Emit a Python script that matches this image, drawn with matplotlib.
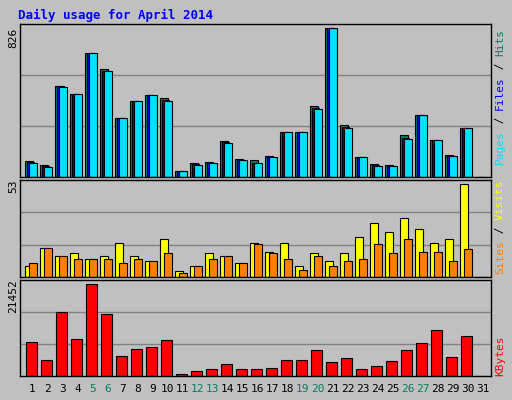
import matplotlib
matplotlib.use("Agg")
import matplotlib.pyplot as plt
import numpy as np

days = list(range(1, 32))
weekend = [5, 6, 12, 13, 19, 20, 26, 27]
hits = [88, 64, 508, 463, 688, 598, 329, 424, 458, 441, 32, 77, 82, 200, 99, 93, 116, 250, 250, 396, 826, 290, 110, 71, 65, 234, 346, 206, 121, 273, 0]
files = [84, 60, 505, 463, 688, 592, 329, 424, 458, 430, 32, 70, 80, 193, 95, 80, 112, 250, 250, 385, 826, 280, 110, 64, 62, 218, 346, 206, 118, 273, 0]
pages = [80, 54, 503, 463, 688, 587, 329, 424, 458, 424, 32, 65, 77, 189, 93, 77, 110, 250, 250, 379, 826, 273, 110, 60, 60, 211, 346, 206, 116, 273, 0]
visits = [6.5, 16.3, 11.7, 13.4, 10.5, 11.7, 19.1, 11.7, 9.4, 21.4, 3.6, 6.5, 13.4, 12.2, 8.2, 19.1, 14.5, 19.1, 6.5, 13.4, 9.4, 13.4, 22.6, 30.6, 25.4, 33.5, 27.2, 19.1, 21.4, 53, 0]
sites = [7.7, 16.3, 11.7, 10.5, 10.5, 10.5, 7.7, 10.5, 9.4, 13.4, 2.5, 6.5, 10.5, 11.7, 7.7, 18.6, 13.4, 10.5, 4.2, 11.7, 6.5, 9.4, 10.5, 18.6, 13.4, 21.4, 14.5, 14.5, 9.4, 15.7, 0]
kbytes = [7830, 3837, 14877, 8535, 21452, 14407, 4776, 6186, 6655, 8300, 548, 1253, 1723, 2897, 1723, 1723, 1957, 3837, 3837, 5951, 3367, 4306, 1723, 2427, 3602, 5951, 7595, 10649, 4541, 9240, 0]

W, H = 512, 400
fig = plt.figure(figsize=(W/100, H/100), dpi=100, facecolor="#C0C0C0")
mono = "DejaVu Sans Mono"

def ax_at(x0, y0, x1, y1):
    ax = fig.add_axes([x0/W, 1 - y1/H, (x1-x0)/W, (y1-y0)/H])
    ax.set_facecolor("#C0C0C0")
    ax.set_xlim(0.5 - 5/15, 31.5 + 1/15)
    ax.set_xticks([]); ax.set_yticks([])
    for s in ax.spines.values():
        s.set_color("black"); s.set_linewidth(1)
    return ax

d = np.array(days)
ax1 = ax_at(20, 24, 491, 177)
top1 = 826 * 1.03
ax1.set_ylim(0, top1)
for g in (top1/3, 2*top1/3):
    ax1.axhline(g, color="#808080", lw=1, zorder=0)
kw = dict(width=0.5, align="edge", edgecolor="black", linewidth=0.8)
ax1.bar(d-0.5, hits, color="#00805C", **kw)
ax1.bar(d-0.37, files, color="#0000FF", **kw)
ax1.bar(d-0.23, pages, color="#00E0FF", **kw)

ax2 = ax_at(20, 180, 491, 277)
top2 = 53 * 1.043
ax2.set_ylim(0, top2)
for g in (top2/3, 2*top2/3):
    ax2.axhline(g, color="#808080", lw=1, zorder=0)
ax2.bar(d-0.5, visits, color="#FFFF00", **kw)
ax2.bar(d-0.23, sites, color="#FF8000", **kw)

ax3 = ax_at(20, 280, 491, 376)
top3 = 21452 * 1.044
ax3.set_ylim(0, top3)
for g in (top3/3, 2*top3/3):
    ax3.axhline(g, color="#808080", lw=1, zorder=0)
ax3.bar(d-0.43, kbytes, width=0.71, align="edge", color="#FF0000", edgecolor="black", linewidth=0.8)

fig.text(18/W, 1-15/H, "Daily usage for April 2014", color="#0000FF", fontsize=9,
         fontweight="bold", family=mono, va="center", ha="left")

for i in days:
    x = (25 + (i-1)*15 + 7.5)/W
    fig.text(x, 1-389/H, str(i), color="#00805C" if i in weekend else "black",
             fontsize=8, family=mono, ha="center", va="center")

fig.text(13/W, 1-38/H, "826", rotation=90, fontsize=8, family=mono, ha="center", va="center")
fig.text(13/W, 1-186/H, "53", rotation=90, fontsize=8, family=mono, ha="center", va="center")
fig.text(13/W, 1-296/H, "21452", rotation=90, fontsize=8, family=mono, ha="center", va="center")

renderer = fig.canvas.get_renderer()

def vlabel(parts, ybottom):
    # parts listed bottom to top (reading order of rotated text)
    y = ybottom
    for txt, col in parts:
        t = fig.text(500/W, 1-y/H, txt, rotation=90, color=col, fontsize=8,
                     family=mono, ha="center", va="bottom")
        bb = t.get_window_extent(renderer)
        y -= bb.height

vlabel([("Pages", "#00E0FF"), (" / ", "black"), ("Files", "#0000FF"), (" / ", "black"), ("Hits", "#00805C")], 164)
vlabel([("Sites", "#FF8000"), (" / ", "black"), ("Visits", "#FFFF00")], 274)
vlabel([("KBytes", "#FF0000")], 376)

fig.savefig("out.png", dpi=100, facecolor=fig.get_facecolor())
